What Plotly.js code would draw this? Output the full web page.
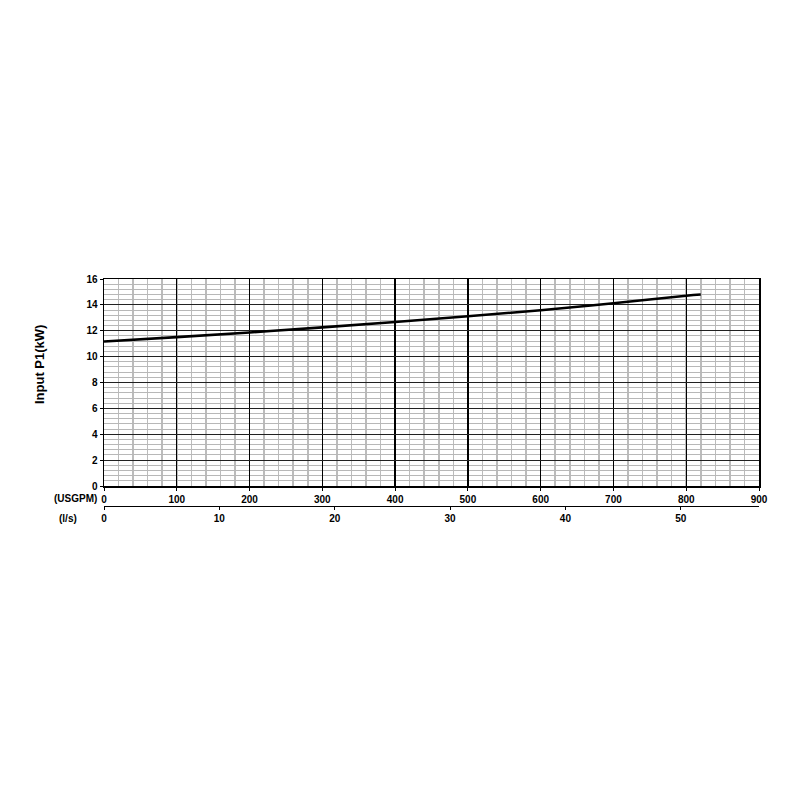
<!DOCTYPE html>
<html>
<head>
<meta charset="utf-8">
<script src="https://cdn.plot.ly/plotly-3.0.1.min.js"></script>
<style>
  body { margin: 0; background: #fff; }
  #chart { width: 800px; height: 800px; }
</style>
</head>
<body>
<div id="chart"></div>
<script>
// Input power curve
var flow_usgpm = [0, 100, 200, 300, 400, 500, 600, 700, 800, 820];
var power_kw = [11.17, 11.51, 11.87, 12.26, 12.68, 13.12, 13.58, 14.13, 14.71, 14.8];

var usgpm_ticks = [0, 100, 200, 300, 400, 500, 600, 700, 800, 900];
var ls_ticks = [0, 10, 20, 30, 40, 50];
var ls_max = 56.78; // 900 USGPM in l/s

var tickFont = {family: 'Liberation Sans, Arial, sans-serif', size: 10, color: '#000', weight: 'bold'};

var trace1 = {
  x: flow_usgpm,
  y: power_kw,
  type: 'scatter',
  mode: 'lines',
  line: {color: '#000', width: 2.6, shape: 'spline'},
  hoverinfo: 'x+y',
  showlegend: false
};

// empty trace so the l/s axis gets drawn
var trace2 = {
  x: [0, ls_max],
  y: [null, null],
  xaxis: 'x2',
  type: 'scatter',
  mode: 'lines',
  hoverinfo: 'skip',
  showlegend: false
};

var layout = {
  width: 800,
  height: 800,
  paper_bgcolor: '#fff',
  plot_bgcolor: '#fff',
  margin: {l: 104, r: 41, t: 279, b: 294},
  showlegend: false,
  xaxis: {
    range: [0, 900],
    tickvals: usgpm_ticks,
    ticks: 'outside',
    ticklen: 3,
    tickcolor: '#000',
    tickfont: tickFont,
    showgrid: true,
    gridcolor: '#000',
    gridwidth: 1.4,
    minor: {dtick: 20, showgrid: true, gridcolor: '#bcbcbc', gridwidth: 1.5},
    showline: true,
    linecolor: '#000',
    linewidth: 1.5,
    mirror: true,
    zeroline: false,
    fixedrange: true
  },
  yaxis: {
    domain: [0.088, 1],
    range: [0, 16],
    dtick: 2,
    ticks: 'outside',
    ticklen: 3,
    tickcolor: '#000',
    tickfont: tickFont,
    showgrid: true,
    gridcolor: '#222',
    gridwidth: 1.2,
    minor: {dtick: 0.4, showgrid: true, gridcolor: '#b8b8b8', gridwidth: 1},
    showline: true,
    linecolor: '#000',
    linewidth: 1.5,
    mirror: true,
    zeroline: false,
    fixedrange: true
  },
  xaxis2: {
    overlaying: 'x',
    anchor: 'free',
    position: 0,
    range: [0, ls_max],
    tickvals: ls_ticks,
    ticks: 'outside',
    ticklen: 3,
    tickcolor: '#000',
    tickfont: tickFont,
    showgrid: false,
    showline: true,
    linecolor: '#000',
    linewidth: 1.3,
    zeroline: false,
    fixedrange: true
  },
  annotations: [
    {
      text: 'Input P1(kW)', xref: 'paper', yref: 'paper', x: -0.0992, y: 0.621,
      xanchor: 'center', yanchor: 'middle',
      textangle: -90, showarrow: false,
      font: {family: 'Liberation Sans, Arial, sans-serif', size: 13, color: '#000', weight: 'bold'}
    },
    {
      text: '(USGPM)', xref: 'paper', yref: 'paper', x: -0.0435, y: 0.031,
      xanchor: 'center', yanchor: 'middle',
      showarrow: false, font: tickFont
    },
    {
      text: '(l/s)', xref: 'paper', yref: 'paper', x: -0.0557, y: -0.057,
      xanchor: 'center', yanchor: 'middle',
      showarrow: false, font: tickFont
    }
  ]
};

Plotly.newPlot('chart', [trace1, trace2], layout, {displayModeBar: false, staticPlot: true});
</script>
</body>
</html>
